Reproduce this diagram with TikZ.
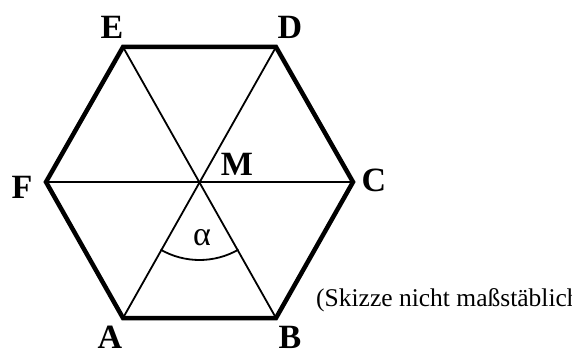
\documentclass[tikz,border=0pt]{standalone}
\usepackage{fontspec}
\setmainfont{Liberation Serif}
\usepackage{tikz}
\pgfdeclarelayer{edgelayer}
\pgfdeclarelayer{nodelayer}
\pgfsetlayers{edgelayer,nodelayer,main}
\tikzstyle{rimedge}=[draw=black, line width=4.5pt, line join=miter]
\tikzstyle{spoke}=[draw=black, line width=1.8pt]
\tikzstyle{anglearc}=[draw=black, line width=1.8pt]
\tikzstyle{cornerlabel}=[inner sep=0pt, font=\fontsize{34}{34}\selectfont\bfseries]
\tikzstyle{anglelabel}=[inner sep=0pt, font=\fontsize{34}{34}\selectfont]
\tikzstyle{notelabel}=[inner sep=0pt, anchor=west, font=\fontsize{25.5}{25.5}\selectfont]

\begin{document}
\begin{tikzpicture}[x=1pt, y=1pt]
					\useasboundingbox (0,0) rectangle (572,351);
					\begin{pgfonlayer}{nodelayer}
						\coordinate (A) at (123, 33);
						\coordinate (B) at (276, 33);
						\coordinate (C) at (353, 169);
						\coordinate (D) at (276, 304);
						\coordinate (E) at (123, 304);
						\coordinate (F) at (46, 169);
						\coordinate (M) at (199.5, 169);
						\node [style=cornerlabel] (lA) at (110, 14) {A};
						\node [style=cornerlabel] (lB) at (290, 14) {B};
						\node [style=cornerlabel] (lC) at (374, 171) {C};
						\node [style=cornerlabel] (lD) at (290, 324) {D};
						\node [style=cornerlabel] (lE) at (112, 324) {E};
						\node [style=cornerlabel] (lF) at (22, 164) {F};
						\node [style=cornerlabel] (lM) at (237, 187) {M};
						\node [style=anglelabel] (alpha) at (202, 113) {α};
						\node [style=notelabel] (note) at (316, 51) {(Skizze nicht maßstäblich)};
					\end{pgfonlayer}
					\begin{pgfonlayer}{edgelayer}
						\draw [style=spoke] (A) to (D);
						\draw [style=spoke] (B) to (E);
						\draw [style=spoke] (C) to (F);
						\draw [style=rimedge] (A) -- (B) -- (C) -- (D) -- (E) -- (F) -- cycle;
						\draw [style=anglearc] (M) ++(240:78) arc[start angle=240, end angle=300, radius=78];
					\end{pgfonlayer}
				\end{tikzpicture}
\end{document}
